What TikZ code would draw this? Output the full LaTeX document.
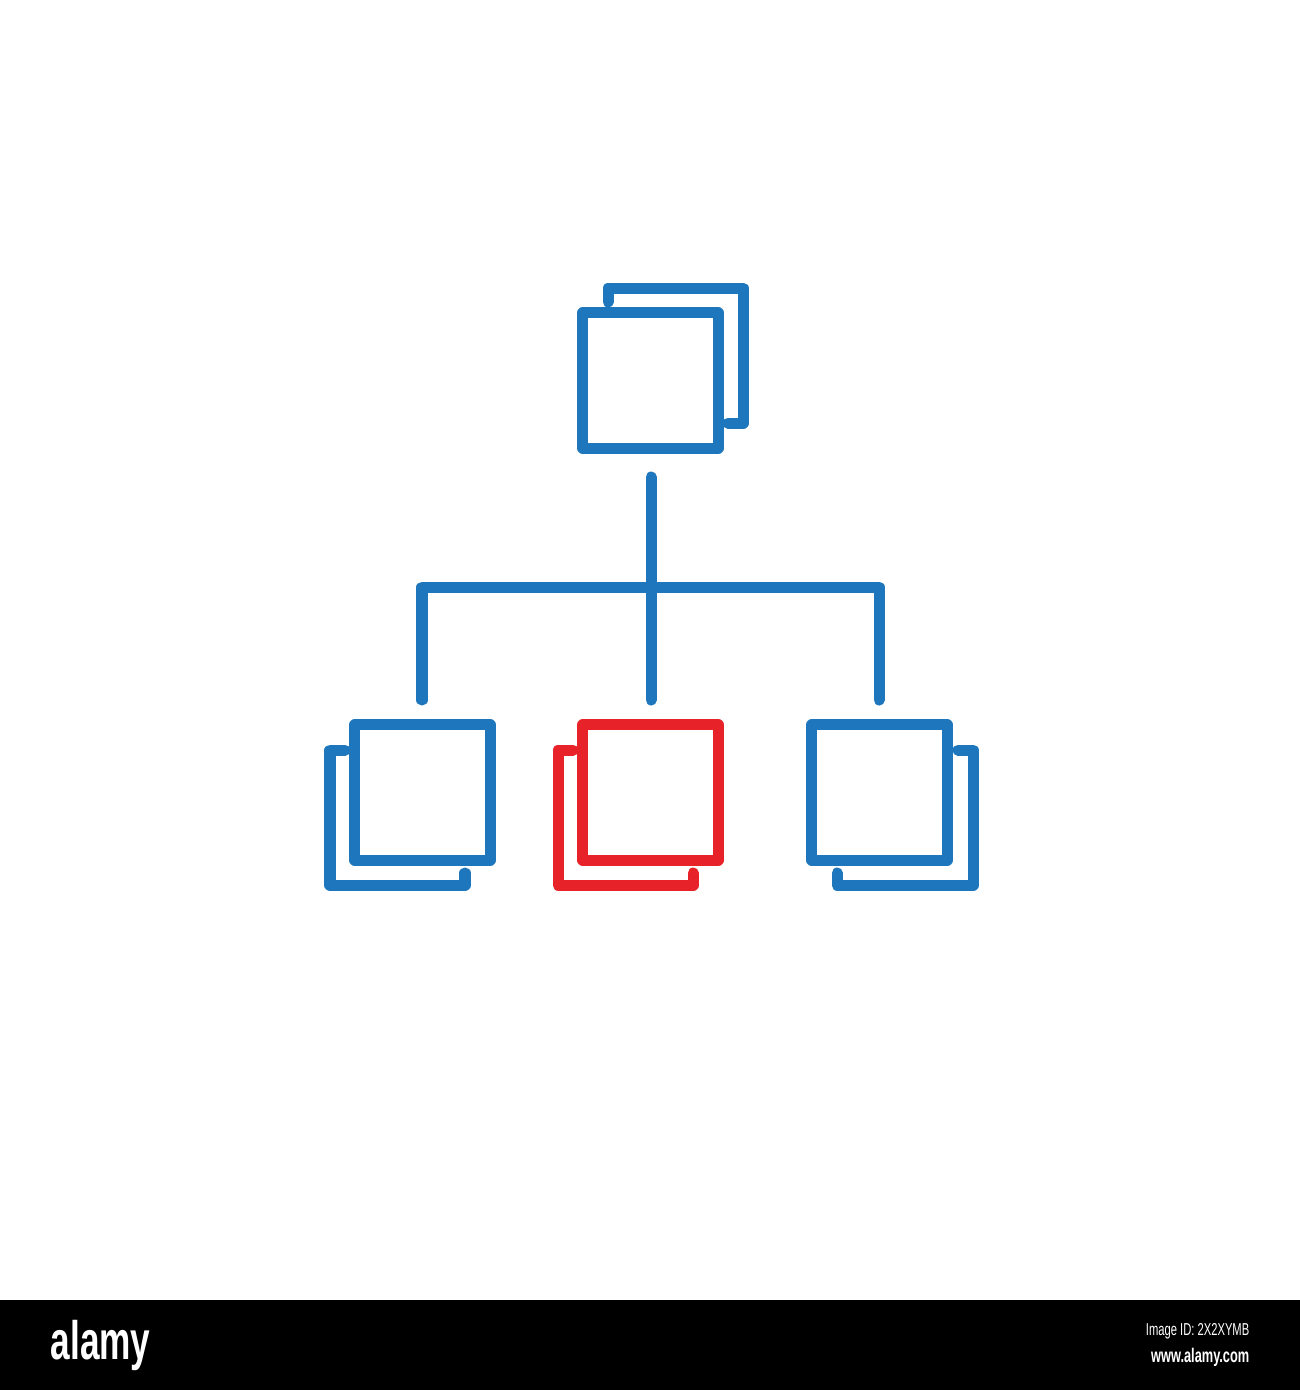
\documentclass[tikz,border=0pt]{standalone}
\usepackage{fontspec}
\newfontfamily\bannerfont[FakeStretch=0.65]{Liberation Sans}
\usepackage{tikz}
\usetikzlibrary{positioning}
\definecolor{iconblue}{RGB}{30,119,189}
\definecolor{iconred}{RGB}{232,34,41}
\tikzset{
  iconline/.style={line width=0.11cm, line cap=round, line join=round},
  pagebox/.style={iconline, draw=#1, rectangle, minimum size=1.35cm, inner sep=0pt},
  pagebox/.default=iconblue
}

\begin{document}
\begin{tikzpicture}[x=0.01cm, y=-0.01cm]
\useasboundingbox (0,0) rectangle (1300,1390);
\fill[white] (0,0) rectangle (1300,1300);
% front pages
\node [pagebox] (root) at (650.5,380.5) {};
\node [pagebox] (left) at (422.5,792.5) {};
\node [pagebox=iconred] (mid) at (650.5,792.5) {};
\node [pagebox] (right) at (879.5,792.5) {};
% pages behind
\draw [iconline, iconblue] (608,302)--(608,288)--(743,288)--(743,423)--(728,423);
\draw [iconline, iconblue] (345,750)--(330,750)--(330,885)--(465,885)--(465,873);
\draw [iconline, iconred] (573,750)--(558,750)--(558,885)--(693,885)--(693,873);
\draw [iconline, iconblue] (958,750)--(973,750)--(973,885)--(837,885)--(837,873);
% connectors
\coordinate (stem top) at (651,477);
\coordinate (stem end) at (651,700);
\coordinate (bar left) at (422,587);
\coordinate (bar right) at (879,587);
\coordinate (left end) at (422,700);
\coordinate (right end) at (879,700);
\draw [iconline, iconblue] (stem top)--(stem end);
\draw [iconline, iconblue] (left end)--(bar left)--(bar right)--(right end);
% banner
\fill [black] (0,1300) rectangle (1300,1390);
\node [white, font=\bannerfont\bfseries\fontsize{15.4}{16}\selectfont, anchor=west, inner sep=0pt] (brand) at (50,1345) {alamy};
\node [white, font=\bannerfont\fontsize{4.9}{6}\selectfont, anchor=east, inner sep=0pt] (imgid) at (1250,1331) {Image ID: 2X2XYMB};
\node [white, font=\bannerfont\bfseries\fontsize{5.6}{6}\selectfont, anchor=east, inner sep=0pt] (site) at (1250,1357) {www.alamy.com};
\end{tikzpicture}
\end{document}
